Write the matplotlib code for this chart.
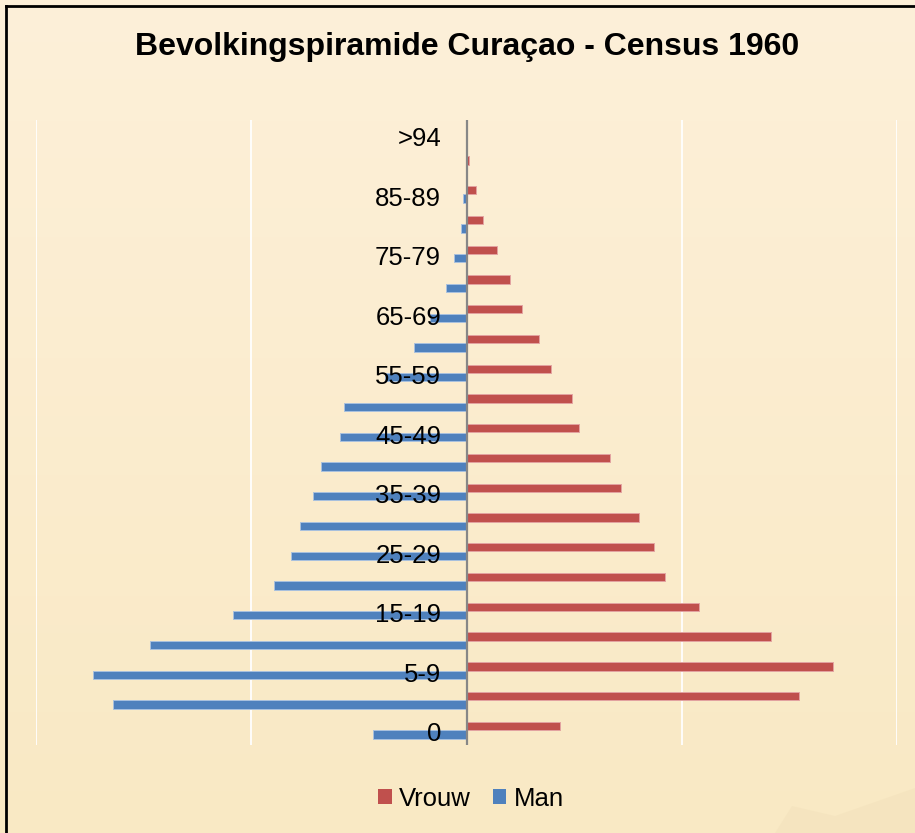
import numpy as np
import matplotlib
matplotlib.use('Agg')
import matplotlib.pyplot as plt
from matplotlib.patches import Patch, Polygon
from matplotlib.lines import Line2D

plt.rcParams['font.family'] = ['Liberation Sans', 'DejaVu Sans']

# age groups, bottom to top
ages = ['0', '1-4', '5-9', '10-14', '15-19', '20-24', '25-29', '30-34', '35-39',
        '40-44', '45-49', '50-54', '55-59', '60-64', '65-69', '70-74', '75-79',
        '80-84', '85-89', '90-94', '>94']
vrouw = [864, 3090, 3405, 2827, 2155, 1839, 1743, 1598, 1436, 1328, 1046,
         975, 780, 672, 514, 402, 278, 151, 84, 21, 0]
man = [866, 3283, 3471, 2939, 2171, 1790, 1635, 1546, 1431, 1356, 1177,
       1140, 758, 489, 340, 195, 118, 53, 31, 0, 0]
gridvals = [-4000, -2000, 2000, 4000]

RED = '#C0504D'
BLUE = '#4F81BD'

W, H = 915, 833
fig = plt.figure(figsize=(W / 100, H / 100), dpi=100)

# background gradient
bg = fig.add_axes([0, 0, 1, 1])
top = np.array([253, 240, 217]) / 255
bot = np.array([249, 233, 196]) / 255
t = np.linspace(0, 1, 200)[:, None]
grad = (top * (1 - t) + bot * t)[:, None, :]
bg.imshow(grad, aspect='auto', extent=[0, W, H, 0])
bg.add_patch(Polygon([[775, 833], [792, 806], [835, 816], [915, 788], [915, 833]],
                     closed=True, color='#EFDDB6', alpha=0.35, lw=0))
bg.add_line(Line2D([6, 6], [6, H], color='black', lw=2))
bg.add_line(Line2D([6, W], [6, 6], color='black', lw=2))
bg.set_xlim(0, W)
bg.set_ylim(H, 0)
bg.axis('off')

ax = fig.add_axes([36.1 / W, 88 / H, 861.2 / W, 625 / H])
ax.patch.set_alpha(0)
y = np.arange(len(ages))
h = 0.28
ax.barh(y + 0.143, vrouw, height=h, color=RED, edgecolor='#E3A3A1', lw=0.7, zorder=3, label='Vrouw')
ax.barh(y - 0.143, [-m for m in man], height=h, color=BLUE, edgecolor='#A9C1DE', lw=0.7, zorder=3, label='Man')

for g in gridvals:
    ax.axvline(g, color='white', lw=1.3, zorder=1)
ax.axvline(0, color='#878787', lw=1.6, zorder=4)

ax.set_xlim(-4000, 4000)
ax.set_ylim(-0.5, len(ages) - 0.5)
ax.set_xticks([])
ax.set_yticks([])
for s in ax.spines.values():
    s.set_visible(False)

for i in range(0, len(ages), 2):
    ax.annotate(ages[i], xy=(0, i), xytext=(-18.5, -3), textcoords='offset points',
                ha='right', va='center', fontsize=18.5, zorder=6)

fig.text(467 / W, 1 - 47 / H, 'Bevolkingspiramide Curaçao - Census 1960',
         ha='center', va='center', fontsize=23, fontweight='bold')

handles = [Patch(facecolor=RED, edgecolor='none', label='Vrouw'),
           Patch(facecolor=BLUE, edgecolor='none', label='Man')]
fig.legend(handles=handles, loc='center', bbox_to_anchor=(471 / W, 1 - 799 / H),
           ncol=2, frameon=False, fontsize=18.5, handlelength=0.52, handleheight=0.52,
           handletextpad=0.3, columnspacing=0.84)

fig.savefig('out.png', dpi=100)
